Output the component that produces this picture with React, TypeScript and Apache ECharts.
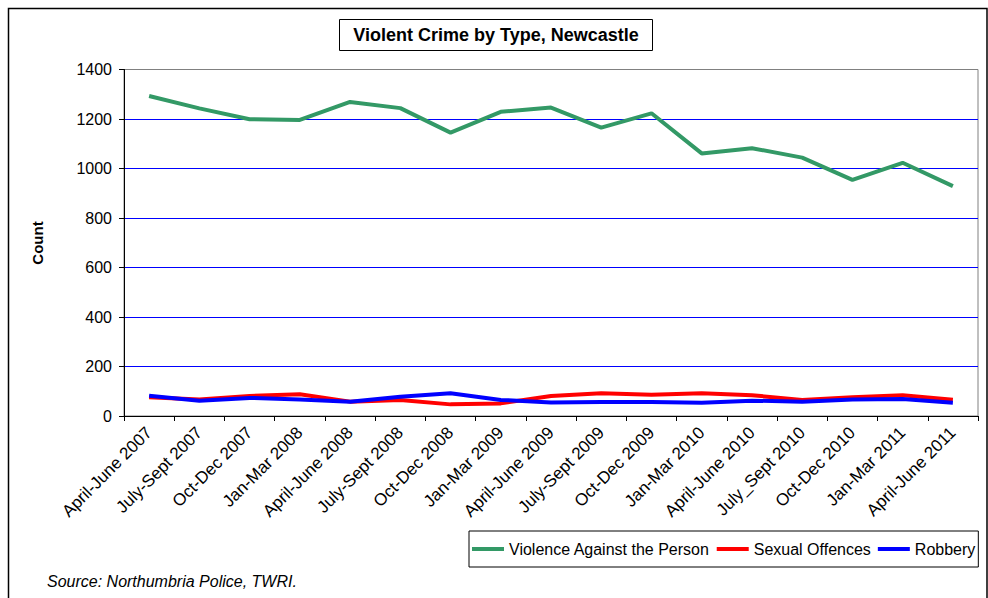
import React, { useEffect, useRef } from "react";
import * as echarts from "echarts";

const categories = [
  "April-June 2007", "July-Sept 2007", "Oct-Dec 2007", "Jan-Mar 2008",
  "April-June 2008", "July-Sept 2008", "Oct-Dec 2008", "Jan-Mar 2009",
  "April-June 2009", "July-Sept 2009", "Oct-Dec 2009", "Jan-Mar 2010",
  "April-June 2010", "July_Sept 2010", "Oct-Dec 2010", "Jan-Mar 2011",
  "April-June 2011",
];
const violence = [1293, 1243, 1199, 1196, 1269, 1244, 1145, 1229, 1246, 1165, 1223, 1061, 1082, 1044, 954, 1023, 929];
const sexual = [76, 67, 81, 88, 58, 65, 47, 51, 81, 92, 86, 92, 84, 65, 76, 84, 66];
const robbery = [82, 62, 73, 67, 58, 78, 92, 65, 55, 57, 57, 54, 62, 58, 67, 69, 54];
const seriesNames = ["Violence Against the Person", "Sexual Offences", "Robbery"];
const titleText = "Violent Crime by Type, Newcastle";
const yAxisTitle = "Count";
const sourceText = "Source: Northumbria Police, TWRI.";

const FONT = "'Liberation Sans', Arial, sans-serif";

export default function App() {
  const ref = useRef<HTMLDivElement>(null);
  useEffect(() => {
    if (!ref.current) return;
    const chart = echarts.init(ref.current, null, { renderer: "svg" });
    const mk = (name: string, data: number[], color: string) => ({
      name,
      type: "line",
      data,
      symbol: "none",
      showSymbol: false,
      lineStyle: { color, width: 4 },
      itemStyle: { color },
    });
    chart.setOption({
      animation: false,
      backgroundColor: "#ffffff",
      textStyle: { fontFamily: FONT },
      grid: {
        left: 124, right: 10, top: 69.5, bottom: 182,
        show: true, borderColor: "#808080", borderWidth: 1,
      },
      xAxis: {
        type: "category",
        data: categories,
        boundaryGap: true,
        axisLine: { lineStyle: { color: "#000", width: 1 } },
        axisTick: { show: true, length: 5, lineStyle: { color: "#000" } },
        axisLabel: { rotate: 45, fontSize: 17, color: "#000", fontFamily: FONT, margin: 14, interval: 0 },
        splitLine: { show: false },
      },
      yAxis: {
        type: "value",
        min: 0, max: 1400, interval: 200,
        axisLine: { show: true, lineStyle: { color: "#000", width: 1 } },
        axisTick: { show: true, length: 5, lineStyle: { color: "#000" } },
        axisLabel: { fontSize: 16, color: "#000", fontFamily: FONT, margin: 12, formatter: (v: number) => String(v) },
        splitLine: { show: true, showMinLine: false, showMaxLine: false, lineStyle: { color: "#0000ff", width: 1 } },
      },
      legend: {
        data: seriesNames,
        left: 469, top: 531,
        orient: "horizontal",
        icon: "rect",
        itemWidth: 32, itemHeight: 4, itemGap: 7,
        padding: [10, 3, 10, 3],
        borderColor: "#000", borderWidth: 1,
        textStyle: { fontSize: 16, color: "#000", fontFamily: FONT },
      },
      series: [
        mk(seriesNames[0], violence, "#339966"),
        mk(seriesNames[1], sexual, "#ff0000"),
        mk(seriesNames[2], robbery, "#0000ff"),
      ],
      graphic: [
        {
          type: "rect", silent: true, z: -1,
          shape: { x: 8.5, y: 8.5, width: 978.5, height: 620 },
          style: { fill: "none", stroke: "#000", lineWidth: 1.5 },
        },
        {
          type: "rect",
          shape: { x: 339.5, y: 19.5, width: 313, height: 31 },
          style: { fill: "#fff", stroke: "#000", lineWidth: 1 },
        },
        {
          type: "text", x: 496, y: 35,
          style: { text: titleText, fontSize: 18, fontWeight: "bold", fontFamily: FONT, fill: "#000", align: "center", verticalAlign: "middle" },
        },
        {
          type: "text", x: 37, y: 243, rotation: Math.PI / 2,
          style: { text: yAxisTitle, fontSize: 15, fontWeight: "bold", fontFamily: FONT, fill: "#000", align: "center", verticalAlign: "middle" },
        },
        {
          type: "text", x: 47, y: 581,
          style: { text: sourceText, fontSize: 16, fontStyle: "italic", fontFamily: FONT, fill: "#000", align: "left", verticalAlign: "middle" },
        },
      ],
    });
    return () => chart.dispose();
  }, []);
  return <div ref={ref} style={{ position: "fixed", left: 0, top: 0, width: 988, height: 598 }} />;
}
